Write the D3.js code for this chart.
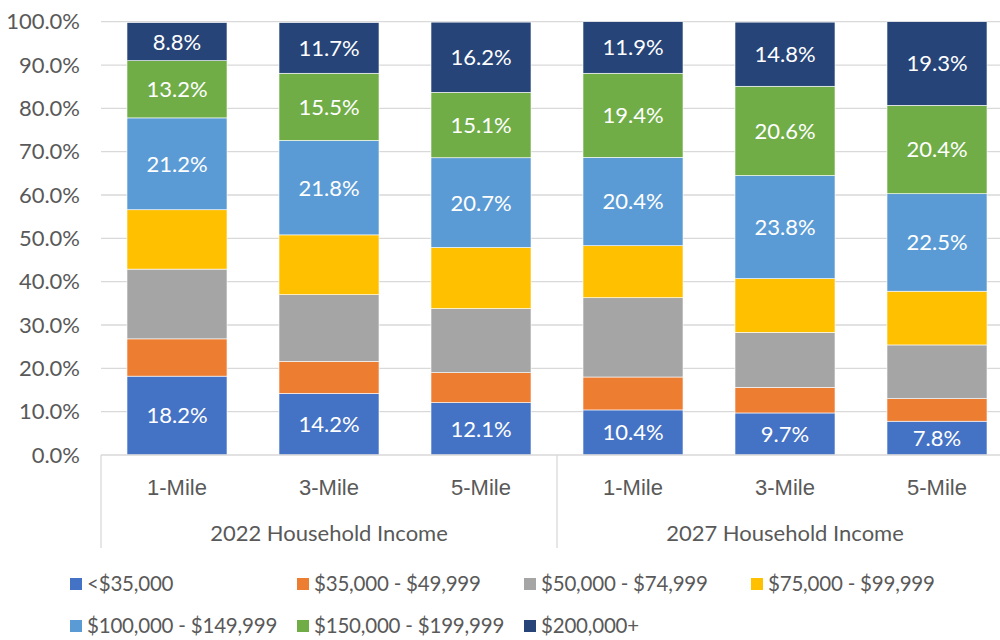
<!DOCTYPE html>
<html>
<head>
<meta charset="utf-8">
<script src="https://cdn.jsdelivr.net/npm/d3@7/dist/d3.min.js"></script>
<style>
  html, body { margin: 0; padding: 0; background: #fff; }
  svg { display: block; font-family: Lato, "Open Sans", sans-serif; }
</style>
</head>
<body>
<svg id="chart" width="1000" height="640"></svg>
<script>
// Household income distribution by radius, 2022 vs 2027 (percent of households)
const categories = ["1-Mile", "3-Mile", "5-Mile", "1-Mile", "3-Mile", "5-Mile"];
const groups = ["2022 Household Income", "2027 Household Income"];
const seriesNames = [
  "<$35,000", "$35,000 - $49,999", "$50,000 - $74,999", "$75,000 - $99,999",
  "$100,000 - $149,999", "$150,000 - $199,999", "$200,000+"
];
const under35k   = [18.2, 14.2, 12.1, 10.4, 9.7, 7.8];
const k35to50    = [8.6, 7.4, 6.9, 7.6, 5.9, 5.2];
const k50to75    = [16.1, 15.4, 14.8, 18.3, 12.7, 12.4];
const k75to100   = [13.7, 13.8, 14.1, 12.0, 12.4, 12.4];
const k100to150  = [21.2, 21.8, 20.7, 20.4, 23.8, 22.5];
const k150to200  = [13.2, 15.5, 15.1, 19.4, 20.6, 20.4];
const over200k   = [8.8, 11.7, 16.2, 11.9, 14.8, 19.3];
const yTicks = [0, 10, 20, 30, 40, 50, 60, 70, 80, 90, 100];
const labelledSeries = ["<$35,000", "$100,000 - $149,999", "$150,000 - $199,999", "$200,000+"];

const seriesValues = [under35k, k35to50, k50to75, k75to100, k100to150, k150to200, over200k];
const colors = ["#4472C4", "#ED7D31", "#A5A5A5", "#FFC000", "#5B9BD5", "#70AD47", "#264478"];
const fontSize = 22;
const legendFontSize = 20.5;

const rows = categories.map((c, i) => {
  const r = { idx: i };
  seriesNames.forEach((s, j) => r[s] = seriesValues[j][i]);
  return r;
});

const svg = d3.select("#chart");
const plotLeft = 101, plotRight = 1013, plotTop = 21.7, plotBottom = 455;

const x = d3.scaleBand().domain(d3.range(categories.length))
  .range([plotLeft, plotRight]).paddingInner(0.342).paddingOuter(0.171);
const y = d3.scaleLinear().domain([0, 100]).range([plotBottom, plotTop]);

// gridlines
svg.append("g").selectAll("line").data(yTicks.filter(t => t > 0)).join("line")
  .attr("x1", plotLeft).attr("x2", 1000)
  .attr("y1", d => y(d)).attr("y2", d => y(d))
  .attr("stroke", "#d9d9d9").attr("stroke-width", 1.3);

// y axis labels
const yAxis = d3.axisLeft(y).tickValues(yTicks).tickSize(0).tickPadding(0)
  .tickFormat(d => d.toFixed(1) + "%");
const gy = svg.append("g").attr("transform", `translate(80,0)`).call(yAxis);
gy.select(".domain").remove();
gy.selectAll("text").attr("font-size", fontSize).attr("fill", "#595959")
  .attr("font-family", "Lato, sans-serif");

// stacked bars
const stack = d3.stack().keys(seriesNames);
const layers = stack(rows);

const gBars = svg.append("g");
layers.forEach((layer, li) => {
  gBars.append("g").attr("fill", colors[li]).selectAll("rect").data(layer).join("rect")
    .attr("x", d => x(d.data.idx))
    .attr("width", x.bandwidth())
    .attr("y", d => y(d[1]))
    .attr("height", d => y(d[0]) - y(d[1]))
    .attr("stroke", "#fff").attr("stroke-width", 0.6);
});

// data labels
layers.forEach((layer, li) => {
  if (!labelledSeries.includes(seriesNames[li])) return;
  svg.append("g").selectAll("text").data(layer).join("text")
    .attr("x", d => x(d.data.idx) + x.bandwidth() / 2)
    .attr("y", d => (y(d[0]) + y(d[1])) / 2)
    .attr("dy", "0.36em")
    .attr("text-anchor", "middle")
    .attr("font-size", fontSize).attr("fill", "#fff")
    .text(d => (d[1] - d[0]).toFixed(1) + "%");
});

// baseline
svg.append("line").attr("x1", plotLeft).attr("x2", 1000)
  .attr("y1", plotBottom).attr("y2", plotBottom)
  .attr("stroke", "#d9d9d9").attr("stroke-width", 1.3);

// multi-level category axis
const xAxis = d3.axisBottom(x).tickSize(0).tickPadding(0).tickFormat(i => categories[i]);
const gx = svg.append("g").attr("transform", `translate(0,${plotBottom})`).call(xAxis);
gx.select(".domain").remove();
gx.selectAll("text").attr("y", 32).attr("dy", "0.36em")
  .attr("font-size", fontSize).attr("fill", "#595959");

const step = x.step();
const dividers = [0, 3, 6].map(k => plotLeft + k * step);
svg.append("g").selectAll("line").data(dividers).join("line")
  .attr("x1", d => d).attr("x2", d => d)
  .attr("y1", plotBottom).attr("y2", 548)
  .attr("stroke", "#d9d9d9").attr("stroke-width", 1.3);

svg.append("g").selectAll("text").data(groups).join("text")
  .attr("x", (d, i) => plotLeft + (i * 3 + 1.5) * step)
  .attr("y", 533).attr("dy", "0.36em")
  .attr("text-anchor", "middle").attr("font-size", fontSize).attr("fill", "#595959")
  .text(d => d);

// legend
const legend = svg.append("g");
seriesNames.forEach((s, i) => {
  const col = i < 4 ? i : i - 4;
  const row = i < 4 ? 0 : 1;
  const lx = 70 + col * 227;
  const ly = row === 0 ? 584 : 626;
  const g = legend.append("g").attr("transform", `translate(${lx},${ly})`);
  g.append("rect").attr("x", 0).attr("y", -6).attr("width", 12).attr("height", 12)
    .attr("fill", colors[i]);
  g.append("text").attr("x", 17).attr("y", 0).attr("dy", "0.36em")
    .attr("font-size", legendFontSize).attr("letter-spacing", -0.2)
    .attr("fill", "#595959").text(s);
});
</script>
</body>
</html>
